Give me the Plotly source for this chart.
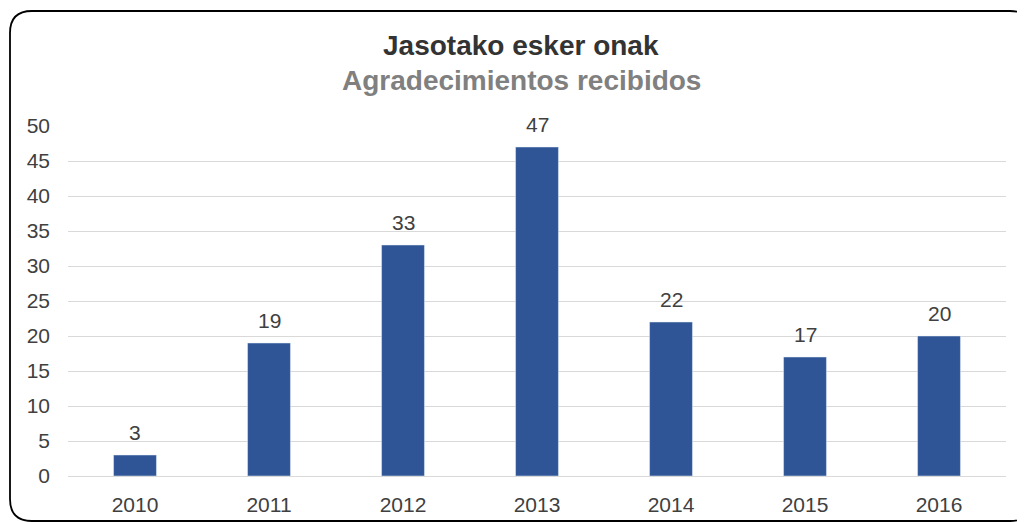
import plotly.graph_objects as go

years = ["2010", "2011", "2012", "2013", "2014", "2015", "2016"]
values = [3, 19, 33, 47, 22, 17, 20]

OFF = 8  # page body margin
W, H = 1025 - OFF, 522 - OFF
L, T = 68 - OFF, 126 - OFF
R = W - (1006 - OFF)
B = H - (476 - OFF)
pw, ph = W - L - R, H - T - B

def px(x):  # screen pixel -> paper
    return (x - OFF - L) / pw

def py(y):
    return (H - B - (y - OFF)) / ph

FONT = "Liberation Sans, Arial"

fig = go.Figure(go.Bar(
    x=years, y=values,
    marker=dict(color="#2F5597"),
))

# data labels (category axis: annotation x uses category index)
for i, v in enumerate(values):
    fig.add_annotation(x=i, y=v, text=str(v), showarrow=False, yanchor="bottom",
                       yshift=9, font=dict(size=21, color="#404040", family=FONT))

# rounded border
x0, x1, y0, y1, r = 10, 1032, 11, 521, 22
path = (f"M {px(x0+r)} {py(y0)} L {px(x1-r)} {py(y0)} Q {px(x1)} {py(y0)} {px(x1)} {py(y0+r)} "
        f"L {px(x1)} {py(y1-r)} Q {px(x1)} {py(y1)} {px(x1-r)} {py(y1)} "
        f"L {px(x0+r)} {py(y1)} Q {px(x0)} {py(y1)} {px(x0)} {py(y1-r)} "
        f"L {px(x0)} {py(y0+r)} Q {px(x0)} {py(y0)} {px(x0+r)} {py(y0)} Z")

fig.update_layout(
    width=W, height=H,
    margin=dict(l=L, r=R, t=T, b=B, autoexpand=False),
    paper_bgcolor="white", plot_bgcolor="white",
    font=dict(family=FONT, color="#404040", size=21),
    bargap=0.68,
    showlegend=False,
    shapes=[dict(type="path", path=path, xref="paper", yref="paper",
                 line=dict(color="black", width=1.8), layer="above")],
)
fig.add_annotation(text="<b>Jasotako esker onak</b>", x=px(521), y=py(46), xref="paper", yref="paper",
                   showarrow=False, font=dict(size=28, color="#333333", family=FONT),
                   xanchor="center", yanchor="middle")
fig.add_annotation(text="<b>Agradecimientos recibidos</b>", x=px(521), y=py(80), xref="paper", yref="paper",
                   showarrow=False, font=dict(size=28, color="#808080", family=FONT),
                   xanchor="center", yanchor="middle")

fig.update_yaxes(range=[0, 50], dtick=5, showgrid=True, gridcolor="#D9D9D9", gridwidth=1,
                 zeroline=True, zerolinecolor="#D9D9D9", zerolinewidth=1, automargin=False,
                 tickfont=dict(size=21, color="#404040"), ticks="", ticklabelstandoff=17)
fig.update_xaxes(type="category", range=[-0.5, len(years) - 0.5], showgrid=False, showline=False,
                 automargin=False,
                 tickfont=dict(size=21, color="#404040"), ticks="", ticklabelstandoff=14)

fig.write_html("out.html")
